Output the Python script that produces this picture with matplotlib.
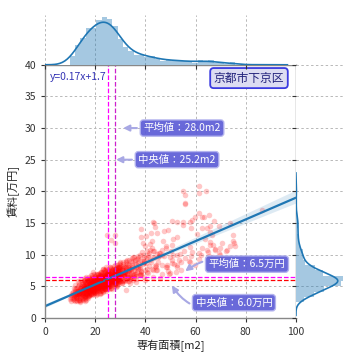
import numpy as np
import matplotlib
matplotlib.use("Agg")
import matplotlib.pyplot as plt
import seaborn as sns

plt.rcParams['font.family'] = ['Noto Sans CJK JP', 'DejaVu Sans']

# 専有面積 [m2] / 賃料 [万円]
# dense part of the cloud
area_core = [
    10.2, 11.0, 11.5, 12.0, 12.3, 12.8, 10.8, 11.8, 12.5, 12.9,
    9.8, 11.3, 12.1, 12.6, 13.0, 11.6, 12.4, 10.5, 12.7, 11.9,
    13.2, 13.5, 13.8, 14.0, 14.2, 14.5, 14.8, 13.4, 13.9, 14.3,
    14.7, 13.1, 13.6, 14.1, 14.6, 14.9, 13.7, 14.4, 13.3, 14.8,
    14.0, 13.9,
    15.0, 15.2, 15.4, 15.5, 15.7, 15.9, 16.0, 16.2, 16.4, 16.5,
    16.7, 16.9, 15.1, 15.3, 15.6, 15.8, 16.1, 16.3, 16.6, 16.8,
    15.0, 15.5, 16.0, 16.5, 17.0, 15.2, 15.8, 16.2, 16.7, 15.4,
    16.0, 16.4, 16.9, 15.6, 16.1, 16.8,
    17.1, 17.2, 17.3, 17.4, 17.5, 17.6, 17.7, 17.8, 17.9, 18.0,
    18.1, 18.2, 18.3, 18.4, 18.5, 18.6, 18.7, 18.8, 18.9, 19.0,
    19.1, 19.2, 19.3, 19.4, 19.5, 19.6, 19.7, 19.8, 19.9, 20.0,
    17.2, 17.5, 17.8, 18.0, 18.3, 18.5, 18.8, 19.0, 19.3, 19.5,
    19.8, 17.4, 17.9, 18.2, 18.6, 19.1, 19.6, 17.0, 18.4, 19.9,
    17.6, 18.1, 18.7, 19.2, 19.7, 17.3, 18.9, 19.4, 18.0, 19.0,
    20.1, 20.2, 20.3, 20.4, 20.5, 20.6, 20.7, 20.8, 20.9, 21.0,
    21.1, 21.2, 21.3, 21.4, 21.5, 21.6, 21.7, 21.8, 21.9, 22.0,
    20.0, 20.3, 20.5, 20.8, 21.0, 21.2, 21.5, 21.8, 22.0, 20.2,
    20.6, 21.1, 21.4, 21.7, 20.4, 20.9, 21.3, 21.9, 20.7, 21.6,
    20.1, 21.0, 21.8, 20.5, 21.2, 22.0,
    22.1, 22.2, 22.3, 22.4, 22.5, 22.6, 22.7, 22.8, 22.9, 23.0,
    23.1, 23.2, 23.3, 23.4, 23.5, 23.6, 23.7, 23.8, 23.9, 24.0,
    24.1, 24.2, 24.3, 24.4, 24.5, 24.6, 24.7, 24.8, 24.9, 25.0,
    22.2, 22.5, 22.8, 23.0, 23.3, 23.5, 23.8, 24.0, 24.3, 24.5,
    24.8, 25.0, 22.4, 22.9, 23.4, 23.9, 24.4, 24.9, 22.6, 23.1,
    23.6, 24.1, 24.6, 22.3, 23.2, 24.2, 24.7, 22.7, 23.7, 24.0,
    25.0, 22.0, 23.0, 24.0, 22.5, 23.5, 24.5, 23.3, 24.8, 22.8,
    23.8, 24.3,
    25.1, 25.2, 25.3, 25.4, 25.5, 25.6, 25.7, 25.8, 25.9, 26.0,
    26.1, 26.2, 26.3, 26.4, 26.5, 26.6, 26.7, 26.8, 26.9, 27.0,
    25.0, 25.3, 25.6, 25.9, 26.2, 26.5, 26.8, 27.0, 25.2, 25.5,
    25.8, 26.1, 26.4, 26.7, 25.4, 26.0, 26.6, 25.1, 25.7, 26.3,
    26.9, 25.5, 26.2, 25.0, 26.5, 27.0,
    27.1, 27.2, 27.3, 27.4, 27.5, 27.6, 27.7, 27.8, 27.9, 28.0,
    28.1, 28.2, 28.3, 28.4, 28.5, 28.6, 28.7, 28.8, 28.9, 29.0,
    29.1, 29.2, 29.3, 29.4, 29.5, 29.6, 29.7, 29.8, 29.9, 30.0,
    27.3, 27.6, 28.0, 28.4, 28.8, 29.2, 29.6, 30.0, 27.5, 28.2,
    28.9, 29.5, 27.8, 28.6, 29.3, 27.1, 28.0, 29.0, 29.8, 27.4,
    28.5, 29.9,
    30.2, 30.4, 30.6, 30.8, 31.0, 31.2, 31.4, 31.6, 31.8, 32.0,
    32.2, 32.4, 32.6, 32.8, 33.0, 30.5, 31.1, 31.7, 32.3, 32.9,
    30.9, 31.5,
    33.3, 33.6, 33.9, 34.2, 34.5, 34.8, 35.1, 35.4, 35.7, 36.0,
    36.3, 36.6, 36.9, 33.5, 34.4, 35.3, 36.2, 34.0,
    37.2, 37.8, 38.4, 39.0, 39.6, 40.2, 40.8, 41.5, 42.2, 43.0,
    43.8, 44.6, 45.5, 38.0, 39.8, 41.0, 42.6, 44.2,
]
rent_core = [
    2.6, 3.0, 3.4, 3.6, 2.9, 4.0, 3.3, 4.2, 3.5, 3.1,
    3.0, 3.8, 4.5, 3.7, 4.3, 2.8, 3.2, 3.6, 4.8, 3.9,
    3.5, 4.0, 3.2, 4.4, 3.7, 4.1, 3.4, 2.9, 4.8, 5.0,
    3.9, 4.2, 3.6, 2.7, 4.6, 4.3, 5.2, 3.3, 3.8, 5.4,
    4.0, 2.5,
    4.0, 3.6, 4.5, 3.9, 4.8, 4.2, 3.5, 5.0, 4.3, 3.8,
    4.6, 5.3, 3.2, 4.9, 4.1, 3.4, 4.7, 5.5, 4.0, 3.6,
    4.4, 5.2, 4.5, 4.9, 4.2, 2.9, 3.7, 4.0, 5.8, 4.6,
    3.1, 4.4, 4.8, 5.1, 6.0, 3.3,
    4.5, 3.9, 5.0, 4.2, 4.7, 5.4, 3.6, 4.4, 5.1, 4.8,
    4.0, 5.6, 4.6, 3.8, 5.2, 4.9, 5.8, 4.3, 5.0, 4.6,
    5.5, 4.1, 5.3, 4.8, 6.0, 4.4, 5.1, 5.7, 4.7, 5.2,
    3.4, 4.1, 6.2, 5.5, 3.7, 4.9, 6.5, 5.0, 4.2, 5.6,
    3.9, 4.6, 5.3, 4.4, 6.8, 5.8, 4.0, 3.2, 5.0, 6.2,
    4.8, 5.2, 4.5, 5.4, 5.0, 5.9, 3.6, 6.4, 4.3, 5.1,
    5.3, 4.6, 5.8, 5.0, 4.3, 5.5, 6.1, 4.8, 5.2, 5.6,
    4.4, 6.3, 5.1, 5.7, 4.9, 6.0, 5.4, 4.7, 6.6, 5.5,
    4.1, 6.9, 5.0, 5.9, 4.5, 5.3, 6.2, 5.0, 4.6, 3.9,
    5.2, 6.5, 4.2, 5.8, 5.6, 4.9, 7.0, 5.3, 3.8, 5.1,
    6.4, 5.7, 6.8, 5.4, 4.8, 5.9,
    5.6, 5.0, 6.2, 5.4, 5.9, 4.7, 6.5, 5.3, 6.0, 5.7,
    4.9, 6.3, 5.5, 6.8, 5.1, 6.1, 5.8, 4.6, 6.4, 5.9,
    5.2, 6.7, 5.6, 6.0, 5.4, 7.0, 5.8, 6.3, 5.0, 6.0,
    4.3, 6.6, 5.1, 7.2, 4.8, 5.7, 6.9, 4.5, 6.2, 7.4,
    5.5, 6.5, 5.8, 4.9, 6.4, 5.3, 5.9, 7.1, 4.4, 6.0,
    5.2, 6.6, 4.8, 7.3, 5.6, 5.0, 6.4, 6.1, 7.6, 5.5,
    5.8, 4.2, 6.3, 6.8, 5.5, 4.7, 6.1, 7.8, 4.6, 5.8,
    6.2, 5.4,
    6.1, 5.5, 6.6, 5.9, 6.3, 5.2, 6.8, 6.0, 5.6, 6.4,
    7.0, 5.8, 6.2, 5.4, 6.7, 6.0, 7.3, 5.7, 6.5, 6.1,
    4.9, 7.5, 5.1, 6.9, 4.8, 7.7, 5.3, 6.6, 7.2, 4.6,
    6.3, 5.0, 7.9, 6.4, 5.6, 8.0, 5.8, 6.4, 7.1, 5.9,
    7.4, 6.2, 6.6, 5.3, 5.5, 7.8,
    6.3, 7.0, 5.7, 6.6, 7.4, 6.0, 6.9, 5.5, 7.6, 6.4,
    7.1, 6.0, 6.7, 7.9, 6.2, 7.3, 5.8, 6.9, 7.5, 6.5,
    7.2, 6.1, 8.1, 6.8, 7.0, 5.9, 7.7, 6.4, 8.3, 7.1,
    5.1, 8.2, 5.4, 7.2, 5.6, 7.9, 6.2, 8.6, 6.8, 4.9,
    6.0, 8.0, 7.3, 5.2, 6.6, 5.9, 7.8, 5.5, 7.4, 6.7,
    8.4, 6.9,
    7.0, 6.3, 7.6, 6.7, 8.2, 5.9, 7.3, 6.6, 8.0, 7.1,
    6.2, 7.8, 6.9, 8.5, 7.4, 5.5, 8.8, 5.8, 9.0, 6.4,
    7.9, 6.9,
    7.2, 8.3, 6.5, 7.8, 8.9, 7.0, 8.0, 6.8, 9.1, 7.6,
    8.5, 7.3, 9.4, 5.9, 6.3, 9.6, 6.6, 5.5,
    8.0, 9.2, 7.4, 10.0, 8.6, 9.5, 7.8, 10.3, 8.9, 9.7,
    8.2, 10.1, 9.8, 6.9, 11.3, 7.1, 11.0, 7.5,
]

# wider halo around the dense part
area_halo = [
    10.5, 11.2, 11.8, 12.2, 12.6, 13.0, 13.4, 13.8, 14.2, 14.6,
    10.9, 11.5, 12.0, 12.4, 12.9, 13.3, 13.7, 14.1, 14.5, 14.9,
    11.0, 11.7, 12.3, 12.8, 13.2, 13.6, 14.0, 14.4, 14.8, 13.5,
    15.1, 15.3, 15.5, 15.7, 15.9, 16.1, 16.3, 16.5, 16.7, 16.9,
    17.1, 17.3, 17.5, 17.7, 17.9, 18.1, 18.3, 18.5, 18.7, 18.9,
    19.1, 19.3, 19.5, 19.7, 19.9, 15.2, 15.6, 16.0, 16.4, 16.8,
    17.2, 17.6, 18.0, 18.4, 18.8, 19.2, 19.6, 20.0, 15.4, 15.8,
    16.2, 16.6, 17.0, 17.4, 17.8, 18.2, 18.6, 19.0, 19.4, 19.8,
    15.0, 15.5, 16.0, 16.5, 17.0, 17.5, 18.0, 18.5, 19.0, 19.5,
    15.9, 16.3, 16.9, 17.3, 17.9, 18.3, 18.9, 19.3, 19.9, 17.7,
    20.1, 20.3, 20.5, 20.7, 20.9, 21.1, 21.3, 21.5, 21.7, 21.9,
    22.1, 22.3, 22.5, 22.7, 22.9, 23.1, 23.3, 23.5, 23.7, 23.9,
    24.1, 24.3, 24.5, 24.7, 24.9, 20.2, 20.6, 21.0, 21.4, 21.8,
    22.2, 22.6, 23.0, 23.4, 23.8, 24.2, 24.6, 25.0, 20.4, 20.8,
    21.2, 21.6, 22.0, 22.4, 22.8, 23.2, 23.6, 24.0, 24.4, 24.8,
    20.0, 20.5, 21.0, 21.5, 22.0, 22.5, 23.0, 23.5, 24.0, 24.5,
    20.3, 20.9, 21.4, 21.9, 22.4, 22.9, 23.4, 23.9, 24.4, 24.9,
    20.6, 21.2, 21.8, 22.3, 22.8, 23.3, 23.8, 24.3, 24.8, 21.5,
    22.5, 23.5, 24.5, 20.8, 22.0, 23.0, 24.0, 25.0, 21.0, 22.7,
    23.6, 24.2, 20.5, 21.7, 23.2,
    25.1, 25.3, 25.5, 25.7, 25.9, 26.1, 26.3, 26.5, 26.7, 26.9,
    27.1, 27.3, 27.5, 27.7, 27.9, 28.1, 28.3, 28.5, 28.7, 28.9,
    29.1, 29.3, 29.5, 29.7, 29.9, 25.2, 25.6, 26.0, 26.4, 26.8,
    27.2, 27.6, 28.0, 28.4, 28.8, 29.2, 29.6, 30.0, 25.4, 25.8,
    26.2, 26.6, 27.0, 27.4, 27.8, 28.2, 28.6, 29.0, 29.4, 29.8,
    25.0, 25.5, 26.0, 26.5, 27.0, 27.5, 28.0, 28.5, 29.0, 29.5,
    25.3, 25.9, 26.4, 26.9, 27.4, 27.9, 28.4, 28.9, 29.4, 29.9,
    25.6, 26.2, 26.8, 27.3, 27.8, 28.3, 28.8, 29.3, 25.1, 26.6,
    27.6, 28.6, 29.6, 26.0, 28.0,
    30.2, 30.5, 30.8, 31.1, 31.4, 31.7, 32.0, 32.3, 32.6, 32.9,
    33.2, 33.5, 33.8, 34.1, 34.4, 34.7, 35.0, 30.3, 30.9, 31.5,
    32.1, 32.7, 33.3, 33.9, 34.5, 30.6, 31.2, 31.8, 32.4, 33.0,
    33.6, 34.2, 34.8, 30.0, 31.0, 32.0, 33.0, 34.0, 35.0, 31.6,
    35.3, 35.7, 36.1, 36.5, 36.9, 37.3, 37.7, 38.1, 38.5, 38.9,
    39.3, 39.7, 35.5, 36.3, 37.1, 37.9, 38.7, 39.5, 36.0, 38.0,
    40.3, 41.0, 41.8, 42.5, 43.3, 44.1, 44.9, 45.8, 46.5, 42.0,
]
rent_halo = [
    3.2, 4.1, 2.7, 4.6, 3.5, 5.0, 3.9, 2.8, 4.4, 5.6,
    4.0, 3.1, 5.2, 3.8, 2.6, 4.3, 5.5, 3.6, 4.9, 3.0,
    3.6, 4.7, 3.3, 4.2, 5.8, 2.9, 4.5, 6.0, 3.8, 4.0,
    4.4, 5.5, 3.3, 6.0, 4.8, 3.0, 5.2, 6.4, 3.8, 4.6,
    5.8, 4.2, 6.5, 3.5, 5.0, 5.5, 4.0, 6.8, 4.7, 5.9,
    3.7, 6.2, 5.0, 4.3, 6.6, 3.9, 5.0, 5.7, 2.8, 4.9,
    6.0, 3.6, 5.3, 6.3, 4.5, 5.6, 7.0, 4.8, 5.9, 2.7,
    4.5, 6.1, 5.0, 3.9, 6.2, 4.6, 5.4, 6.0, 4.1, 5.8,
    3.6, 4.7, 5.5, 4.0, 4.9, 5.6, 6.0, 3.8, 5.2, 4.4,
    6.3, 3.4, 5.5, 4.8, 4.2, 6.0, 5.5, 7.2, 5.0, 6.0,
    5.2, 6.3, 4.2, 6.0, 5.5, 7.0, 4.6, 5.8, 6.5, 3.9,
    6.0, 5.0, 7.3, 5.5, 4.4, 6.2, 6.8, 5.1, 6.0, 7.5,
    4.8, 6.5, 5.5, 6.9, 6.0, 3.6, 5.9, 6.4, 4.9, 7.1,
    5.3, 6.0, 4.1, 6.6, 5.6, 7.7, 5.0, 6.2, 6.0, 4.7,
    5.6, 6.2, 3.8, 6.0, 7.0, 5.3, 6.3, 4.6, 6.1, 5.5,
    4.5, 5.5, 6.0, 5.2, 6.5, 4.0, 5.8, 6.0, 7.2, 4.3,
    6.0, 5.0, 6.7, 5.6, 4.7, 6.0, 5.5, 6.4, 8.0, 5.8,
    4.4, 5.8, 6.0, 6.9, 5.2, 7.8, 4.5, 6.0, 6.6, 5.5,
    6.0, 6.2, 5.0, 6.8, 5.4, 6.0, 5.9, 7.0, 4.9, 6.3,
    5.5, 6.5, 5.8, 6.1, 4.2,
    6.0, 7.2, 5.0, 6.5, 8.0, 5.5, 6.8, 4.8, 7.5, 6.0,
    5.6, 7.0, 6.2, 8.3, 5.2, 6.6, 7.8, 6.0, 5.0, 7.3,
    6.5, 8.5, 5.8, 6.9, 7.6, 5.3, 6.0, 7.4, 6.5, 4.6,
    6.0, 7.0, 6.5, 5.5, 8.0, 6.2, 7.3, 5.9, 6.3, 5.8,
    6.0, 7.1, 5.5, 6.5, 7.8, 6.0, 5.4, 7.0, 6.4, 8.8,
    5.0, 6.0, 6.5, 7.2, 6.0, 5.6, 7.0, 6.6, 8.0, 6.1,
    6.5, 5.5, 6.0, 7.6, 6.0, 5.3, 6.8, 6.0, 7.4, 5.7,
    7.0, 6.0, 6.4, 5.8, 7.2, 6.5, 6.0, 7.9, 5.4, 6.2,
    6.8, 7.5, 6.5, 5.0, 6.0,
    6.5, 7.8, 5.8, 8.5, 6.8, 7.3, 6.0, 8.9, 7.0, 6.4,
    8.0, 7.5, 6.2, 9.0, 7.2, 8.3, 6.8, 7.0, 6.0, 8.0,
    7.5, 6.5, 9.2, 7.0, 8.0, 5.5, 7.5, 6.6, 8.1, 5.9,
    7.7, 6.4, 9.5, 8.0, 6.9, 7.2, 8.4, 7.8, 6.0, 7.0,
    7.5, 8.8, 6.9, 9.3, 7.8, 8.3, 10.0, 7.2, 9.0, 8.5,
    9.6, 7.6, 6.5, 8.0, 9.8, 6.8, 10.4, 8.9, 7.0, 8.0,
    8.7, 10.0, 9.2, 7.8, 10.5, 8.4, 9.6, 10.2, 9.9, 11.6,
]

# mid-size listings fanning out to the right of the cloud
area_mid = [
    36.4, 37.7, 38.3, 39.6, 40.8, 41.3, 42.9, 43.4, 44.7, 45.2,
    46.8, 47.3, 48.6, 49.1, 50.7, 51.4, 52.2, 53.8, 54.3, 55.6,
    37.1, 39.3, 40.9, 43.2, 45.5, 46.6, 49.4, 51.2, 52.8, 55.3,
    57.2, 58.7, 61.3, 62.6, 65.4, 66.8, 69.2, 70.7, 72.6, 74.8,
    57.9, 62.1, 65.8, 70.3, 73.9, 38.2, 41.9, 45.8, 50.2, 53.6,
    59.8, 63.7, 67.9, 44.1, 48.3,
]
rent_mid = [
    6.2, 7.8, 6.8, 9.0, 7.3, 8.2, 6.5, 9.4, 7.6, 8.8,
    7.0, 9.8, 8.0, 7.4, 9.2, 8.5, 7.2, 10.1, 8.8, 9.5,
    8.6, 6.4, 9.6, 7.5, 10.3, 8.4, 6.9, 9.9, 8.3, 10.6,
    9.0, 10.4, 9.3, 11.0, 9.8, 11.5, 10.2, 11.8, 10.7, 12.2,
    11.2, 10.0, 12.0, 9.5, 11.4, 7.0, 10.8, 6.3, 10.5, 9.1,
    8.4, 12.5, 10.9, 8.1, 11.1,
]

# scattered larger / pricier listings
area_sparse = [
    54.9, 55.9, 61.4, 61.5, 64.0, 55.9, 50.6, 52.5, 55.0, 55.0,
    57.8, 59.9, 61.4, 62.4, 65.5, 67.2, 69.3, 64.4, 58.2, 60.4,
    65.6, 75.0, 75.4, 75.6, 69.7, 67.7, 65.1, 64.5, 72.1, 67.1,
    61.5, 58.2, 52.7, 52.7, 51.1, 49.1, 47.4, 42.9, 43.8, 38.1,
    42.1, 44.5, 40.2, 38.1, 39.2, 42.5, 47.1, 48.1, 50.5, 46.5,
    43.2, 40.5, 49.8, 50.5, 48.2, 52.5, 54.1, 86.4, 24.6, 27.9,
    26.5, 28.0, 32.5, 35.2, 43.4, 58.4, 63.3, 62.7, 65.7, 73.7,
    65.7, 50.0, 48.5, 39.8, 32.1, 36.1, 55.8, 66.4, 69.7, 57.8,
]
rent_sparse = [
    20.0, 19.5, 20.8, 19.8, 20.0, 18.0, 15.3, 15.2, 15.1, 14.7,
    15.1, 15.9, 16.6, 16.0, 16.3, 15.3, 14.6, 14.2, 14.2, 13.3,
    13.5, 13.1, 11.9, 11.4, 11.0, 10.8, 10.4, 10.8, 10.5, 9.6,
    10.2, 9.8, 10.0, 12.8, 12.4, 13.9, 13.8, 15.1, 14.4, 14.0,
    13.4, 13.4, 12.9, 12.8, 11.8, 12.2, 12.1, 11.3, 11.5, 10.8,
    10.6, 10.5, 9.7, 8.6, 8.0, 8.0, 7.6, 17.0, 13.1, 13.1,
    12.3, 11.8, 9.1, 9.6, 15.0, 15.4, 15.9, 14.2, 14.5, 15.0,
    11.5, 7.1, 8.4, 6.0, 4.4, 5.7, 18.1, 13.1, 10.0, 8.9,
]

area_mean, area_median = 28.0, 25.2
rent_mean, rent_median = 6.5, 6.0
fit_label = 'y=0.17x+1.7'
ward = '京都市下京区'

area = np.array(area_core + area_halo + area_mid + area_sparse)
rent = np.array(rent_core + rent_halo + rent_mid + rent_sparse)

blue = '#1f77b4'
grid_kw = dict(color='#b8b8b8', linestyle=(0, (2.5, 2.5)), linewidth=0.7)

fig = plt.figure(figsize=(3.6, 3.6), dpi=100)
ax = fig.add_axes([0.125, 0.117, 0.697, 0.703])
ax_top = fig.add_axes([0.125, 0.820, 0.697, 0.138], sharex=ax)
ax_right = fig.add_axes([0.822, 0.117, 0.136, 0.703], sharey=ax)

ax.set_xlim(0, 100)
ax.set_ylim(0, 40)
ax.set_axisbelow(True)
ax.grid(True, **grid_kw)

sns.regplot(x=area, y=rent, ax=ax, truncate=False, seed=0,
            scatter_kws=dict(color='red', alpha=0.22, s=16, linewidths=0),
            line_kws=dict(color=blue, lw=1.6))
ax.set_xlim(0, 100)
ax.set_ylim(0, 40)

ax.axvline(area_median, color='magenta', ls='--', lw=0.9)
ax.axvline(area_mean, color='#cc22cc', ls='--', lw=0.9)
ax.axhline(rent_mean, color='magenta', ls='--', lw=0.9)
ax.axhline(rent_median, color='red', ls='--', lw=0.9)

ax.set_xticks([0, 20, 40, 60, 80, 100])
ax.set_yticks(range(0, 41, 5))
ax.tick_params(labelsize=7.5, colors='#333333', length=3, width=0.8)
ax.set_xlabel('専有面積[m2]', fontsize=8, color='#222222', labelpad=2)
ax.set_ylabel('賃料[万円]', fontsize=8, color='#222222', labelpad=3)
for sp in ax.spines.values():
    sp.set_color('#888888')
    sp.set_linewidth(1.0)

box = dict(boxstyle='round,pad=0.3', fc='#5c5cd6', ec='#b4b4ee', lw=1.0, alpha=0.92)
arr = dict(arrowstyle='-|>', color='#a8a8e4', lw=1.5, mutation_scale=9)
ax.annotate('平均値：%.1fm2' % area_mean, xy=(area_mean + 2, 30), xytext=(39.2, 30),
            ha='left', va='center', color='white', fontsize=7.5, bbox=box, arrowprops=arr)
ax.annotate('中央値：%.1fm2' % area_median, xy=(area_median + 2, 25), xytext=(37.2, 25),
            ha='left', va='center', color='white', fontsize=7.5, bbox=box, arrowprops=arr)
ax.annotate('平均値：%.1f万円' % rent_mean, xy=(55, 7.1), xytext=(65.2, 8.5),
            ha='left', va='center', color='white', fontsize=7.5, bbox=box,
            arrowprops=dict(arr, connectionstyle='arc3,rad=0.3'))
ax.annotate('中央値：%.1f万円' % rent_median, xy=(50, 5.5), xytext=(60.0, 2.4),
            ha='left', va='center', color='white', fontsize=7.5, bbox=box,
            arrowprops=dict(arr, connectionstyle='arc3,rad=-0.45'))

ax.text(2, 38.1, fit_label, color='#3535b5', fontsize=7.5, va='center', ha='left')
ax.text(81.3, 37.9, ward, color='#20207a', fontsize=8.5, ha='center', va='center',
        bbox=dict(boxstyle='round,pad=0.3', fc='#dcdcf2', ec='#3a3ae0', lw=1.3))

# marginal distributions
ax_top.hist(area, bins=36, density=True, color=blue, alpha=0.4)
sns.kdeplot(x=area, ax=ax_top, color=blue, lw=1.2)
ax_right.hist(rent, bins=22, density=True, color=blue, alpha=0.4,
              orientation='horizontal')
sns.kdeplot(y=rent, ax=ax_right, color=blue, lw=1.2)

ax_top.set_ylim(bottom=0)
ax_right.set_xlim(left=0)
for a in (ax_top, ax_right):
    a.set_xlabel('')
    a.set_ylabel('')
    for sp in a.spines.values():
        sp.set_visible(False)
ax_top.set_yticks([])
ax_top.tick_params(axis='x', labelbottom=False, length=3, colors='#333333')
ax_top.grid(True, axis='x', **grid_kw)
ax_right.set_xticks([])
ax_right.tick_params(axis='y', labelleft=False, length=3, colors='#333333')
ax_right.grid(True, axis='y', **grid_kw)
ax_top.set_axisbelow(True)
ax_right.set_axisbelow(True)

fig.savefig('out.png', dpi=100)
